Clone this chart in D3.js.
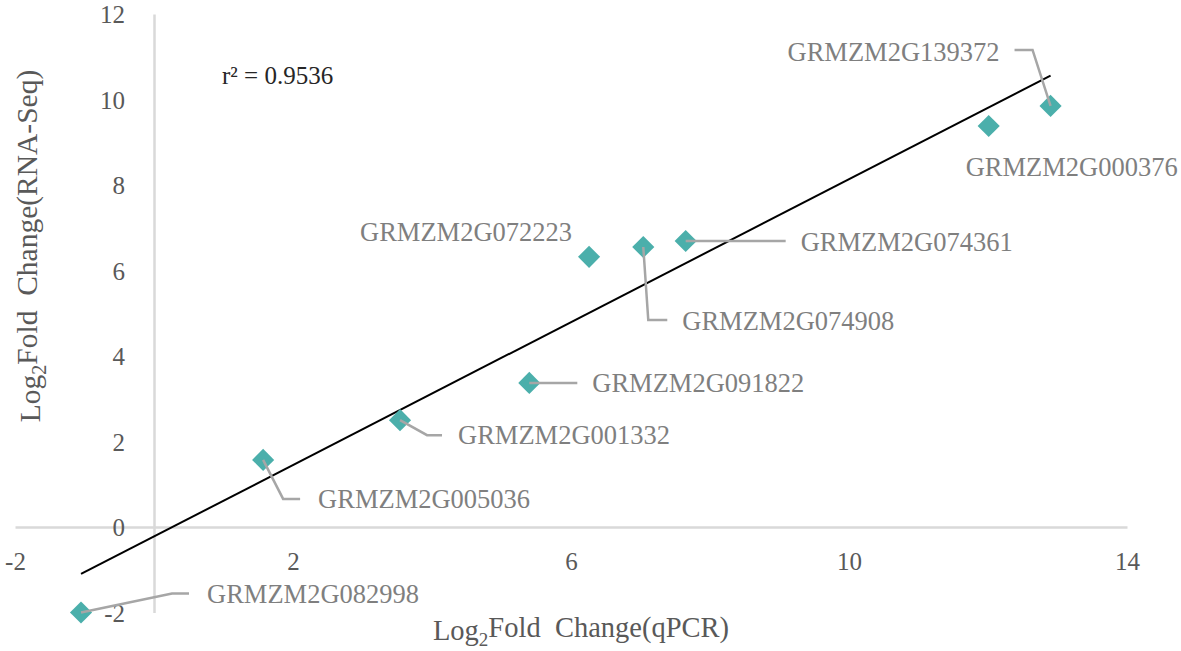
<!DOCTYPE html>
<html>
<head>
<meta charset="utf-8">
<script src="https://cdn.jsdelivr.net/npm/d3@7"></script>
<style>
  html, body { margin: 0; padding: 0; background: #fff; }
  svg { display: block; }
</style>
</head>
<body>
<svg id="chart" width="1181" height="651"></svg>
<script>
// ---- data ----
const genes = ["GRMZM2G082998", "GRMZM2G005036", "GRMZM2G001332", "GRMZM2G091822",
               "GRMZM2G072223", "GRMZM2G074908", "GRMZM2G074361", "GRMZM2G000376", "GRMZM2G139372"];
const qpcr   = [-1.05, 1.57, 3.54, 5.40, 6.26, 7.04, 7.65, 12.01, 12.90];
const rnaseq = [-2.00, 1.57, 2.50, 3.37, 6.32, 6.55, 6.69, 9.38, 9.85];
const xTicks = [-2, 2, 6, 10, 14];
const yTicks = [-2, 0, 2, 4, 6, 8, 10, 12];
const rSquaredText = "r\u00B2 = 0.9536";

// ---- label layout (pixel offsets from each point) ----
const labelLayout = [
  { leader: [[0,0],[91,-19],[108,-19]], tx: 126, ty: -19, anchor: "start" },
  { leader: [[0,0],[20,39],[37,39]],     tx: 55,  ty: 39,  anchor: "start" },
  { leader: [[0,0],[27,15],[42,15]],     tx: 58,  ty: 15,  anchor: "start" },
  { leader: [[0,0],[48,0]],              tx: 63,  ty: 0,   anchor: "start" },
  { leader: null,                        tx: -17, ty: -25, anchor: "end" },
  { leader: [[0,0],[5,73],[24,73]],      tx: 39,  ty: 74,  anchor: "start" },
  { leader: [[0,0],[100,0]],             tx: 115, ty: 1,   anchor: "start" },
  { leader: null,                        tx: 83,  ty: 41,  anchor: "middle" },
  { leader: [[0,0],[-18,-56],[-36,-56]], tx: -51, ty: -54, anchor: "end" }
];

const FONT = "'Liberation Serif', 'Times New Roman', serif";
const svg = d3.select("#chart");
const x = d3.scaleLinear().domain([-2, 14]).range([15, 1127]);
const y = d3.scaleLinear().domain([-2, 12]).range([612.5, 14]);

const axisColor = "#d9d9d9";
const tickColor = "#595959";

// x axis at y=0
const gx = svg.append("g")
  .attr("transform", `translate(0,${y(0)})`)
  .call(d3.axisBottom(x).tickValues(xTicks).tickSize(0).tickFormat(d => String(d)));
gx.select(".domain").attr("stroke", axisColor).attr("stroke-width", 2.5);
gx.selectAll("text").attr("y", 34).attr("dy", "0.35em")
  .attr("fill", tickColor).attr("font-size", 25).style("font-family", FONT);

// y axis at x=0
const gy = svg.append("g")
  .attr("transform", `translate(${x(0)},0)`)
  .call(d3.axisLeft(y).tickValues(yTicks).tickSize(0).tickFormat(d => String(d)));
gy.select(".domain").attr("stroke", axisColor).attr("stroke-width", 2.5);
gy.selectAll("text").attr("x", -29).attr("dy", "0.35em")
  .attr("fill", tickColor).attr("font-size", 25).style("font-family", FONT);

// regression line
const n = qpcr.length;
const mx = d3.mean(qpcr), my = d3.mean(rnaseq);
let sxy = 0, sxx = 0;
for (let i = 0; i < n; i++) { sxy += (qpcr[i]-mx)*(rnaseq[i]-my); sxx += (qpcr[i]-mx)**2; }
const slope = sxy / sxx, intercept = my - slope * mx;
const [x0, x1] = d3.extent(qpcr);
svg.append("line")
  .attr("x1", x(x0)).attr("y1", y(intercept + slope*x0))
  .attr("x2", x(x1)).attr("y2", y(intercept + slope*x1))
  .attr("stroke", "#000").attr("stroke-width", 2);

// points
const pts = genes.map((g, i) => ({ gene: g, px: x(qpcr[i]), py: y(rnaseq[i]), lay: labelLayout[i] }));
const diamond = d3.symbol().type(d3.symbolSquare).size(245);

svg.append("g").selectAll("path").data(pts).join("path")
  .attr("d", diamond)
  .attr("transform", d => `translate(${d.px},${d.py}) rotate(45)`)
  .attr("fill", "#4bafab");

// leaders
const line = d3.line();
svg.append("g").selectAll("path").data(pts.filter(d => d.lay.leader)).join("path")
  .attr("d", d => line(d.lay.leader.map(p => [d.px + p[0], d.py + p[1]])))
  .attr("fill", "none").attr("stroke", "#a6a6a6").attr("stroke-width", 2.5);

// labels
svg.append("g").selectAll("text").data(pts).join("text")
  .attr("x", d => d.px + d.lay.tx).attr("y", d => d.py + d.lay.ty)
  .attr("dy", "0.35em").attr("text-anchor", d => d.lay.anchor)
  .attr("fill", "#7f7f7f").attr("font-size", 26.5).style("font-family", FONT)
  .text(d => d.gene);

// r squared
svg.append("text").attr("x", 222).attr("y", 75).attr("dy", "0.35em")
  .attr("fill", "#262626").attr("font-size", 25).style("font-family", FONT).text(rSquaredText);

// axis titles
const xt = svg.append("text").attr("x", 581).attr("y", 630).attr("dy", "0.35em")
  .attr("text-anchor", "middle").attr("fill", tickColor).attr("font-size", 28.5).style("font-family", FONT);
xt.append("tspan").text("Log");
xt.append("tspan").attr("font-size", 19).attr("dy", "0.3em").text("2");
xt.append("tspan").attr("dy", "-0.3em").text("Fold\u00A0 Change(qPCR)");

const yt = svg.append("text").attr("transform", "translate(40,246) rotate(-90)")
  .attr("text-anchor", "middle").attr("fill", tickColor).attr("font-size", 29.5).style("font-family", FONT);
yt.append("tspan").text("Log");
yt.append("tspan").attr("font-size", 20).attr("dy", "0.3em").text("2");
yt.append("tspan").attr("dy", "-0.3em").text("Fold\u00A0 Change(RNA-Seq)");
</script>
</body>
</html>
